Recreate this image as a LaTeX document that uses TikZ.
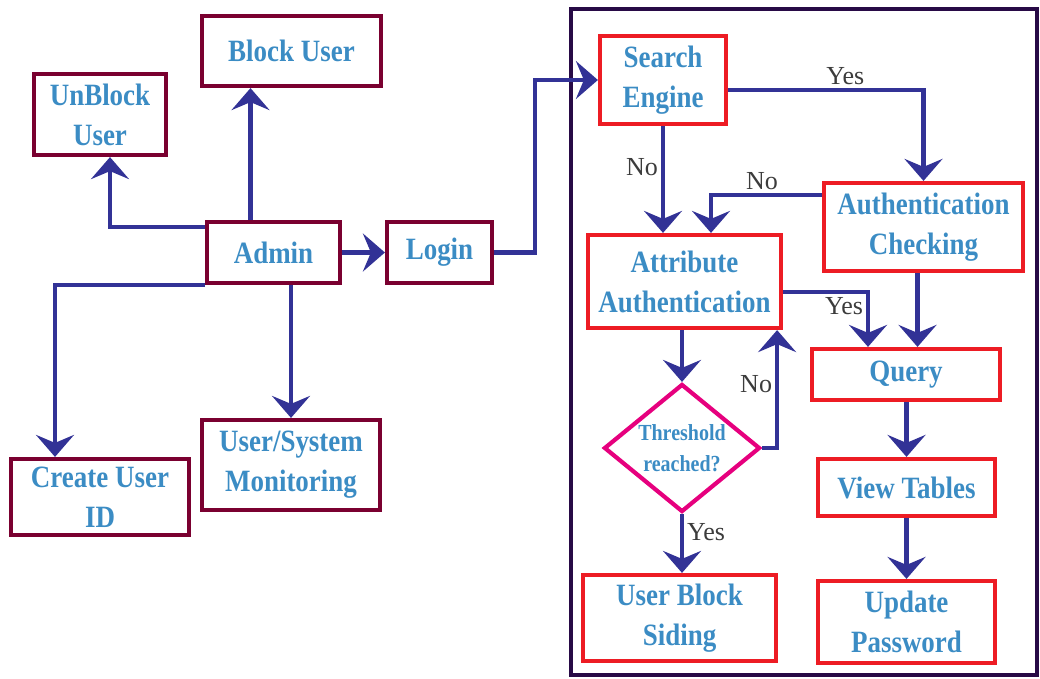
\documentclass[tikz,border=0pt]{standalone}
\usepackage{fontspec}
\setmainfont{Liberation Serif}
\newfontfamily\boxfont[FakeStretch=0.87]{Liberation Serif}
\usepackage{tikz}
\usetikzlibrary{
    arrows.meta,
    positioning,
    calc,
    shapes.geometric
}
\definecolor{adMaroon}{RGB}{122,0,48}
\definecolor{txBlue}{RGB}{59,140,196}
\definecolor{arNavy}{RGB}{50,50,150}
\definecolor{sysRed}{RGB}{237,28,36}
\definecolor{thrPink}{RGB}{230,0,126}
\definecolor{frPurple}{RGB}{40,10,70}
\definecolor{lbGray}{RGB}{60,60,60}
\newcommand{\bigtxt}{\boxfont\bfseries\fontsize{31}{40}\selectfont}
\newcommand{\smalltxt}{\boxfont\bfseries\fontsize{23}{31}\selectfont}
\tikzset{
  ablock/.style = {draw=adMaroon, line width=4.2pt, text=txBlue,
                   align=center, font=\bigtxt, inner sep=2pt},
  sblock/.style = {draw=sysRed, line width=4.2pt, text=txBlue,
                   align=center, font=\bigtxt, inner sep=2pt},
  arr/.style    = {-{Stealth[length=22pt,width=38pt,inset=8pt]},
                   line width=4.2pt, arNavy},
  lbl/.style    = {font=\fontsize{26}{30}\selectfont, text=lbGray,
                   inner sep=3pt}
}

\begin{document}
\begin{tikzpicture}[x=1pt, y=-1pt,
        thr/.style={diamond, draw=thrPink, line width=4.2pt, text=txBlue,
                    align=center, font=\smalltxt, aspect=1.2, inner sep=0pt,
                    minimum width=156pt, minimum height=128pt},
        frame/.style={draw=frPurple, line width=4pt}
      ]
        \useasboundingbox (0,0) rectangle (1040,678);

        % ── ADMIN ──
        \node[ablock, minimum width=179pt, minimum height=70pt] (A_block)   at (291.5,51)  {Block User};
        \node[ablock, minimum width=132pt, minimum height=81pt] (A_unblock) at (100,114.5) {UnBlock\\User};
        \node[ablock, minimum width=133pt, minimum height=61pt] (A_admin)   at (273.5,252.5) {Admin};
        \node[ablock, minimum width=105pt, minimum height=61pt] (A_login)   at (439.5,252.5) {Login};
        \node[ablock, minimum width=178pt, minimum height=76pt] (A_create)  at (100,497)   {Create User\\ID};
        \node[ablock, minimum width=178pt, minimum height=90pt] (A_monitor) at (291,465)   {User/System\\Monitoring};

        \coordinate (c_blk) at ($(A_admin.north)+(-23,0)$);
        \draw[arr] (c_blk) -- (c_blk |- A_block.south);
        \draw[arr] ($(A_admin.north west)+(0,7)$) -| ($(A_unblock.south)+(10,0)$);
        \draw[arr] (A_admin.south west) -| ($(A_create.north)+(-45,0)$);
        \draw[arr] (A_monitor.north |- A_admin.south) -- (A_monitor.north);
        \draw[arr] (A_admin) -- (A_login);

        % ── SYSTEM ──
        \draw[frame] (571,9) rectangle (1037,675);

        \node[sblock, minimum width=126pt, minimum height=88pt] (S_search) at (663,80)      {Search\\Engine};
        \node[sblock, minimum width=199pt, minimum height=88pt] (S_check)  at (923.5,227)   {Authentication\\Checking};
        \node[sblock, minimum width=193pt, minimum height=93pt] (S_attr)   at (684.5,281.5) {Attribute\\Authentication};
        \node[sblock, minimum width=188pt, minimum height=51pt] (S_query)  at (906,374.5)   {Query};
        \node[thr] (S_thr) at (682,448) {Threshold\\reached?};
        \node[sblock, minimum width=177pt, minimum height=57pt] (S_view)   at (906.5,487.5) {View Tables};
        \node[sblock, minimum width=193pt, minimum height=86pt] (S_ublock) at (679.5,618)   {User Block\\Siding};
        \node[sblock, minimum width=177pt, minimum height=82pt] (S_update) at (906.5,622)   {Update\\Password};

        \draw[arr] (A_login.east) -- ++(41,0) |- (S_search.west);
        \draw[arr] ($(S_search.east)+(0,10)$) -| node[lbl, pos=0.3, above] {Yes} (S_check.north);
        \draw[arr] (S_search.south) -- node[lbl, pos=0.38, left] {No} (S_search.south |- S_attr.north);
        \draw[arr] ($(S_check.west)+(0,-32)$) -| node[lbl, pos=0.27, above] {No} ($(S_attr.north)+(26.5,0)$);
        \draw[arr] ($(S_attr.east)+(0,10.5)$) -| node[lbl, pos=0.5, below left] {Yes} ($(S_query.north)+(-38,0)$);
        \coordinate (c_chk) at ($(S_check.south)+(-6,0)$);
        \draw[arr] (c_chk) -- (c_chk |- S_query.north);
        \draw[arr] (S_attr.south -| S_thr.north) -- (S_thr.north);
        \draw[arr] (S_thr.east) -| node[lbl, pos=0.77, left] {No} ($(S_attr.south east)+(-6,0)$);
        \draw[arr] (S_thr.south) -- node[lbl, pos=0.3, right] {Yes} (S_thr.south |- S_ublock.north);
        \draw[arr] (S_query.south -| S_view.north) -- (S_view.north);
        \draw[arr] (S_view.south) -- (S_update.north);
      \end{tikzpicture}
\end{document}
